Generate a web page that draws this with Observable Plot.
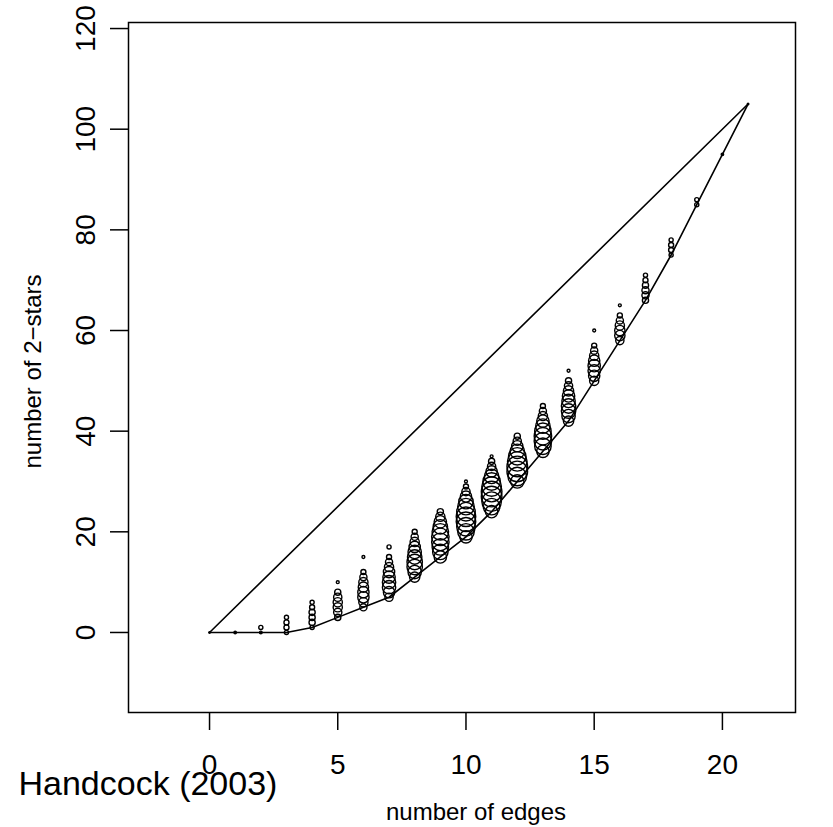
<!DOCTYPE html>
<html><head><meta charset="utf-8">
<script src="https://cdn.jsdelivr.net/npm/d3@7"></script>
<script src="https://cdn.jsdelivr.net/npm/@observablehq/plot@0.6"></script>
<style>
body{margin:0;background:#fff;}
#chart{position:relative;width:833px;height:827px;}
#chart svg{font-family:"Liberation Sans",Arial,Helvetica,sans-serif;}
</style>
</head><body><div id="chart"></div>
<script>
// number of edges (categories)
const edgeCounts = [0,1,2,3,4,5,6,7,8,9,10,11,12,13,14,15,16,17,18,19,20,21];
// observed numbers of 2-stars for each edge count
const twoStarValues = [
  [0],
  [0],
  [0,1],
  [0,1,2,3],
  [1,2,3,4,5,6],
  [3,4,5,6,7,8,10],
  [5,6,7,8,9,10,11,12,15],
  [7,8,9,10,11,12,13,14,15,17],
  [11,12,13,14,15,16,17,18,19,20],
  [15,16,17,18,19,20,21,22,23,24],
  [19,20,21,22,23,24,25,26,27,28,29,30],
  [24,25,26,27,28,29,30,31,32,33,34,35],
  [30,31,32,33,34,35,36,37,38,39],
  [36,37,38,39,40,41,42,43,44,45],
  [42,43,44,45,46,47,48,49,50,52],
  [50,51,52,53,54,55,56,57,60],
  [58,59,60,61,62,63,65],
  [66,67,68,69,70,71],
  [75,76,77,78],
  [85,86],
  [95],
  [105]
];
const relFreq = [
  [0.6],
  [1.4],
  [1.7,4],
  [4,6,6,4],
  [4,9,9,9,6,4],
  [9,16,20,20,16,9,2],
  [12,20,30,30,25,20,12,6,2],
  [16,30,42,42,36,30,20,12,6,4],
  [25,42,56,56,49,42,30,20,12,6],
  [36,56,64,72,72,64,49,36,20,9],
  [36,64,81,90,90,81,64,49,30,16,6,2],
  [36,64,90,100,100,90,72,49,30,16,9,2],
  [42,81,100,100,90,72,49,30,16,9],
  [36,64,72,72,64,49,36,20,12,6],
  [25,42,49,49,42,36,25,16,9,2],
  [20,30,36,36,30,20,12,6,2],
  [16,25,25,20,12,6,2],
  [9,12,12,9,6,4],
  [4,6,6,4],
  [4,4],
  [1.4],
  [0.6]
];
// minimum possible 2-stars per edge count (lower boundary curve)
const lowerBound = [0,0,0,0,1,3,5,7,11,15,19,24,30,36,42,50,58,66,75,85,95,105];
// upper boundary: straight line between these two points
const upperEdges = [0,21];
const upperStars = [0,105];
const xTicks = [0,5,10,15,20];
const yTicks = [0,20,40,60,80,100,120];
const xLabel = "number of edges";
const yLabel = "number of 2\u2212stars";
const caption = "Handcock (2003)";

const dots = [];
edgeCounts.forEach((e,i) => twoStarValues[i].forEach((s,j) => dots.push({e, s, f: relFreq[i][j]})));
const lower = edgeCounts.map((e,i) => ({e, s: lowerBound[i]}));
const upper = upperEdges.map((e,i) => ({e, s: upperStars[i]}));

const TICK_FS = 28;
const LAB_FS = 24;
const chart = Plot.plot({
  width: 833,
  height: 827,
  marginLeft: 128,
  marginRight: 38,
  marginTop: 22,
  marginBottom: 115,
  style: {fontFamily: '"Liberation Sans",Arial,Helvetica,sans-serif', background: "#fff"},
  x: {domain: [-3.16, 22.85], label: null},
  y: {domain: [-15.9, 121.2], label: null},
  r: {type: "sqrt", domain: [0, 100], range: [0, 10.3]},
  marks: [
    Plot.frame({stroke: "black", strokeWidth: 1.5}),
    Plot.axisX({ticks: xTicks, tickSize: 18, tickPadding: 24, fontSize: TICK_FS, label: null, stroke: "black", strokeWidth: 1.5}),
    Plot.axisY({ticks: yTicks, tickSize: 18, tickFormat: () => "", label: null, stroke: "black", strokeWidth: 1.5}),
    Plot.text(yTicks, {y: d => d, text: d => String(d), frameAnchor: "left", textAnchor: "middle", lineAnchor: "middle", dx: -42, rotate: -90, fontSize: TICK_FS, fill: "black"}),
    Plot.text([yLabel], {text: d => d, frameAnchor: "left", textAnchor: "middle", lineAnchor: "middle", dx: -95, dy: 4, rotate: -90, fontSize: LAB_FS, fill: "black"}),
    Plot.text([xLabel], {text: d => d, frameAnchor: "bottom", textAnchor: "middle", dx: 14, dy: 107, fontSize: LAB_FS, fill: "black"}),
    Plot.text([caption], {text: d => d, frameAnchor: "bottom-left", textAnchor: "start", dx: -110, dy: 82, fontSize: 34, fill: "black"}),
    Plot.line(upper, {x: "e", y: "s", stroke: "black", strokeWidth: 1.6}),
    Plot.line(lower, {x: "e", y: "s", stroke: "black", strokeWidth: 1.6}),
    Plot.dot(dots, {x: "e", y: "s", r: "f", stroke: "black", fill: "none", strokeWidth: 1.4})
  ]
});
document.getElementById("chart").appendChild(chart);
</script>
</body></html>
